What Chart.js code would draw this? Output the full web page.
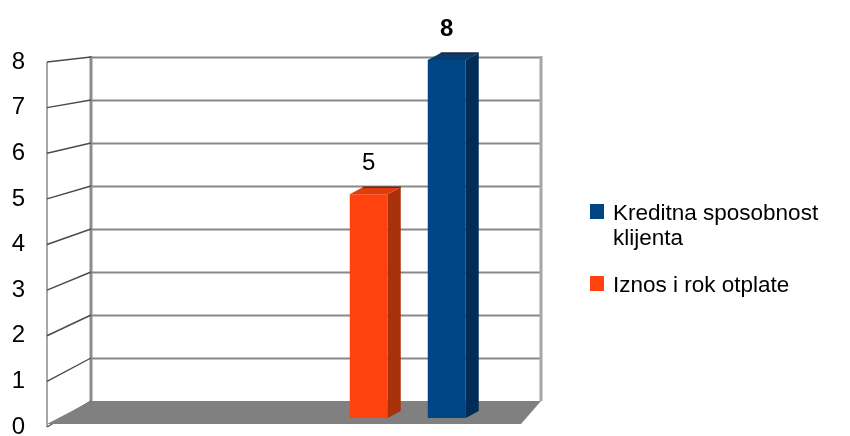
<!DOCTYPE html>
<html>
<head>
<meta charset="utf-8">
<script src="https://cdn.jsdelivr.net/npm/chart.js@4/dist/chart.umd.min.js"></script>
<style>
  html, body { margin: 0; padding: 0; background: #fff; }
  #wrap { position: relative; width: 850px; height: 436px; overflow: hidden; }
  #c { position: absolute; left: 0; top: 0; }
  #legend {
    position: absolute; left: 590px; top: 200px; width: 245px;
    font-family: "Liberation Sans", Arial, sans-serif; font-size: 22.5px; line-height: 25px; color: #000;
  }
  .item { position: relative; padding-left: 23px; margin-bottom: 22px; }
  .sw { position: absolute; left: 0; top: 4px; width: 14px; height: 15px; }
</style>
</head>
<body>
<div id="wrap">
  <canvas id="c" width="850" height="436"></canvas>
  <div id="legend"></div>
</div>
<script>
// Chart data
const categories = ['', ''];
const seriesNames = ['Iznos i rok otplate', 'Kreditna sposobnost klijenta'];
const iznosValues = [null, 5];
const kreditnaValues = [null, 8];
const yTicks = [0, 1, 2, 3, 4, 5, 6, 7, 8];

// Layout of the pseudo-3D box: plot area rows and where 0 / top value sit
// on the front edge, the bar plane and the back wall.
const AREA_TOP = 50, AREA_BOTTOM = 436;
const Y_TOP = yTicks[yTicks.length - 1];
function span(zeroPx, topPx) {
  const perUnit = (zeroPx - topPx) / Y_TOP;
  return { min: -(AREA_BOTTOM - zeroPx) / perUnit, max: Y_TOP + (topPx - AREA_TOP) / perUnit };
}
const frontSpan = span(427, 62);
const barSpan = span(418, 60);
const backSpan = span(401, 57);

const DEPTH = { backLeft: 44, frontRight: -7, backRight: 13, barDx: 13, barDy: 7 };

const room3d = {
  id: 'room3d',
  beforeDatasetsDraw(chart) {
    const { ctx, chartArea: a, scales } = chart;
    const yF = scales.yFront, yB = scales.yBack;
    const fl = a.left, bl = a.left + DEPTH.backLeft;
    const fr = a.right + DEPTH.frontRight, br = a.right + DEPTH.backRight;
    ctx.save();
    // back wall grid
    ctx.strokeStyle = '#888';
    ctx.lineWidth = 2.2;
    yTicks.forEach(v => {
      if (v === 0) return;
      const y = Math.round(yB.getPixelForValue(v)) + 0.5;
      ctx.beginPath(); ctx.moveTo(bl, y); ctx.lineTo(br, y); ctx.stroke();
    });
    // back wall edges
    ctx.lineWidth = 3;
    ctx.strokeStyle = '#8c8c8c';
    ctx.beginPath();
    ctx.moveTo(bl, yB.getPixelForValue(Y_TOP) - 1);
    ctx.lineTo(bl, yB.getPixelForValue(0));
    ctx.stroke();
    ctx.strokeStyle = '#a6a6a6';
    ctx.beginPath();
    ctx.moveTo(br, yB.getPixelForValue(Y_TOP) - 1);
    ctx.lineTo(br, yB.getPixelForValue(0));
    ctx.stroke();
    // left wall: front edge and slanted tick lines
    ctx.strokeStyle = '#8a8a8a';
    ctx.lineWidth = 1.5;
    ctx.beginPath();
    ctx.moveTo(fl, yF.getPixelForValue(Y_TOP));
    ctx.lineTo(fl, yF.getPixelForValue(0));
    ctx.stroke();
    ctx.strokeStyle = '#4a4a4a';
    ctx.lineWidth = 1.4;
    yTicks.forEach(v => {
      ctx.beginPath();
      ctx.moveTo(fl, yF.getPixelForValue(v));
      ctx.lineTo(bl, yB.getPixelForValue(v));
      ctx.stroke();
    });
    // floor
    const fy = yF.getPixelForValue(0) - 3, by = yB.getPixelForValue(0);
    ctx.fillStyle = '#808080';
    ctx.beginPath();
    ctx.moveTo(fl, fy); ctx.lineTo(fr, fy); ctx.lineTo(br, by); ctx.lineTo(bl, by);
    ctx.closePath(); ctx.fill();
    ctx.restore();
  },
  afterDatasetsDraw(chart) {
    const { ctx } = chart;
    ctx.save();
    chart.data.datasets.forEach((ds, i) => {
      const meta = chart.getDatasetMeta(i);
      meta.data.forEach((el, j) => {
        const v = ds.data[j];
        if (v === null || v === undefined) return;
        const { x, y, base, width } = el.getProps(['x', 'y', 'base', 'width'], true);
        const l = x - width / 2, r = x + width / 2;
        const dx = DEPTH.barDx, dy = DEPTH.barDy;
        // side face
        ctx.fillStyle = ds.sideColor;
        ctx.beginPath();
        ctx.moveTo(r, y); ctx.lineTo(r + dx, y - dy); ctx.lineTo(r + dx, base - dy); ctx.lineTo(r, base);
        ctx.closePath(); ctx.fill();
        // top face
        ctx.fillStyle = ds.topColor;
        ctx.beginPath();
        ctx.moveTo(l, y); ctx.lineTo(l + dx, y - dy); ctx.lineTo(r + dx, y - dy); ctx.lineTo(r, y);
        ctx.closePath(); ctx.fill();
        ctx.strokeStyle = ds.edgeColor;
        ctx.lineWidth = 1.5;
        ctx.beginPath(); ctx.moveTo(l + dx, y - dy); ctx.lineTo(r + dx, y - dy); ctx.stroke();
        // value label
        ctx.fillStyle = '#000';
        ctx.font = ds.valueWeight + ' 24px "Liberation Sans", Arial, sans-serif';
        ctx.textAlign = 'center';
        ctx.textBaseline = 'middle';
        ctx.fillText(String(v), x, y - 31);
      });
    });
    ctx.restore();
  }
};

const chart = new Chart(document.getElementById('c'), {
  type: 'bar',
  data: {
    labels: categories,
    datasets: [
      { label: seriesNames[0], data: iznosValues, yAxisID: 'y',
        backgroundColor: '#ff420e', sideColor: '#a8300a', topColor: '#e03c0c', edgeColor: '#6e2410',
        valueWeight: 'normal', categoryPercentage: 0.6486, barPercentage: 0.487 },
      { label: seriesNames[1], data: kreditnaValues, yAxisID: 'y',
        backgroundColor: '#004586', sideColor: '#002c55', topColor: '#0b3a6c', edgeColor: '#1c2a3c',
        valueWeight: 'bold', categoryPercentage: 0.6486, barPercentage: 0.487 }
    ]
  },
  options: {
    responsive: false,
    animation: false,
    layout: { padding: { top: AREA_TOP, bottom: 436 - AREA_BOTTOM, left: 0, right: 322 } },
    plugins: { legend: { display: false }, tooltip: { enabled: false } },
    scales: {
      x: { display: false, offset: true },
      y: { display: false, min: barSpan.min, max: barSpan.max },
      yBack: { display: false, position: 'left', min: backSpan.min, max: backSpan.max },
      yFront: {
        display: true, position: 'left', min: frontSpan.min, max: frontSpan.max,
        grid: { display: false, drawTicks: false }, border: { display: false },
        afterBuildTicks(s) { s.ticks = yTicks.map(v => ({ value: v })); },
        afterFit(s) { s.width = 47; s.paddingTop = 0; s.paddingBottom = 0; },
        ticks: { padding: 22, color: '#000', font: { family: '"Liberation Sans", Arial, sans-serif', size: 24 } }
      }
    }
  },
  plugins: [room3d]
});

// legend, listed top to bottom in reverse dataset order
const legend = document.getElementById('legend');
chart.data.datasets.slice().reverse().forEach(ds => {
  const item = document.createElement('div');
  item.className = 'item';
  const sw = document.createElement('span');
  sw.className = 'sw';
  sw.style.background = ds.backgroundColor;
  item.appendChild(sw);
  item.appendChild(document.createTextNode(ds.label));
  legend.appendChild(item);
});
</script>
</body>
</html>
